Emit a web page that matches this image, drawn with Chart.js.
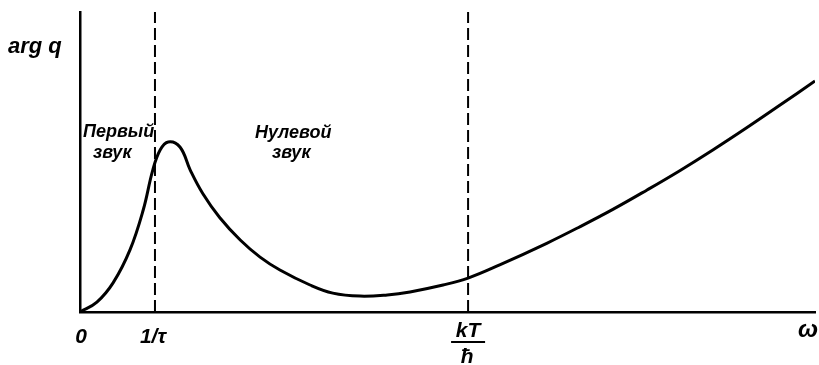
<!DOCTYPE html>
<html>
<head>
<meta charset="utf-8">
<script src="https://cdn.jsdelivr.net/npm/chart.js@4.4.1/dist/chart.umd.min.js"></script>
<style>
    html, body { margin: 0; padding: 0; background: #fff; }
    #wrap { width: 819px; height: 365px; }
</style>
</head>
<body>
<div id="wrap"><canvas id="chart" width="819" height="365"></canvas></div>
<script>
// frequency and phase of q, arbitrary units (0..100 on both axes)
let omega = [0, 2.3, 4.5, 6.8, 8.6, 9.9, 10.9, 12.0, 13.6, 15.0, 16.7, 19.0, 21.8, 24.5, 27.2, 31.3,
             34.4, 38.1, 41.8, 44.9, 49.4, 52.8, 57.1, 63.5, 68.0, 72.5, 77.1, 81.6, 86.1, 90.7, 95.2, 100];
let argQ = [0, 3.3, 9.7, 20.7, 34, 47.3, 54, 56.7, 55, 47.3, 39.5, 31.5, 24, 18.3, 14, 9,
            6.3, 5.3, 5.7, 6.7, 9, 11.3, 15.7, 22.9, 28.4, 34.2, 40.6, 47.1, 54.0, 61.4, 68.9, 77.0];

// 1/tau and kT/hbar
let boundaries = [10.2, 52.8];
let tickValues = [0, 10.2, 52.8];
let tickLabels = ["0", "1/τ", "kT"];
let regionNames = [["Первый", "звук"], ["Нулевой", "звук"]];

let curve = omega.map((w, i) => ({ x: w, y: argQ[i] }));
let dashed = boundaries.map(b => ({
    data: [{ x: b, y: 0 }, { x: b, y: 100 }],
    borderColor: "#000",
    borderWidth: 2,
    borderDash: [12, 5],
    pointRadius: 0,
    showLine: true
}));

const textPlugin = {
    id: "textPlugin",
    afterDraw(chart) {
        let ctx = chart.ctx;
        let xs = chart.scales.x;
        ctx.save();
        ctx.fillStyle = "#000";
        ctx.strokeStyle = "#000";

        // axis names
        ctx.textAlign = "left";
        ctx.font = "italic bold 22px 'Liberation Sans'";
        ctx.fillText("arg q", 8, 53);
        ctx.textAlign = "center";
        ctx.font = "italic bold 24px 'Liberation Sans'";
        ctx.fillText("ω", 808, 337);

        // tick labels under the x axis
        ctx.font = "italic bold 21px 'Liberation Sans'";
        ctx.fillText(tickLabels[0], xs.getPixelForValue(tickValues[0]) + 1, 343);
        ctx.fillText(tickLabels[1], xs.getPixelForValue(tickValues[1]) - 2, 343);
        let kx = xs.getPixelForValue(tickValues[2]);
        ctx.fillText(tickLabels[2], kx, 337);
        ctx.lineWidth = 2;
        ctx.beginPath();
        ctx.moveTo(kx - 17, 342);
        ctx.lineTo(kx + 17, 342);
        ctx.stroke();
        ctx.fillText("ħ", kx - 1, 363);

        // region names
        ctx.textAlign = "left";
        ctx.font = "italic 600 18px 'Liberation Sans'";
        ctx.fillText(regionNames[0][0], 83, 137);
        ctx.fillText(regionNames[0][1], 93, 158);
        ctx.fillText(regionNames[1][0], 255, 138);
        ctx.fillText(regionNames[1][1], 272, 158);
        ctx.restore();
    }
};

new Chart(document.getElementById("chart"), {
    type: "scatter",
    data: {
        datasets: [{
            data: curve,
            borderColor: "#000",
            borderWidth: 3,
            pointRadius: 0,
            showLine: true,
            tension: 0.4
        }, ...dashed]
    },
    options: {
        responsive: false,
        animation: false,
        layout: { padding: { left: 80, top: 12, right: 4, bottom: 53 } },
        scales: {
            x: {
                type: "linear",
                min: 0,
                max: 100,
                grid: { display: false, drawTicks: false },
                ticks: { display: false },
                border: { display: true, color: "#000", width: 2.5 }
            },
            y: {
                type: "linear",
                min: 0,
                max: 100,
                grid: { display: false, drawTicks: false },
                ticks: { display: false },
                border: { display: true, color: "#000", width: 2.5 }
            }
        },
        plugins: {
            legend: { display: false },
            tooltip: { enabled: false }
        }
    },
    plugins: [textPlugin]
});
</script>
</body>
</html>
